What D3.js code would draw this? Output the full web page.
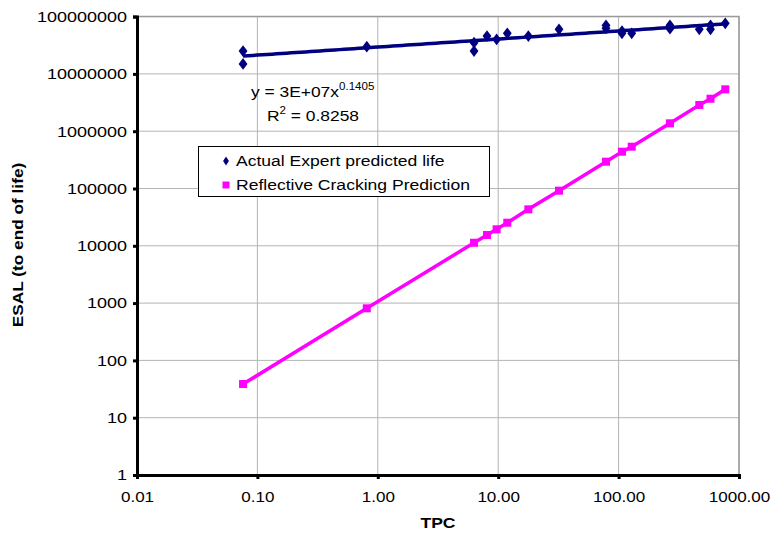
<!DOCTYPE html>
<html><head><meta charset="utf-8">
<script src="https://cdn.jsdelivr.net/npm/d3@7"></script>
<style>body{margin:0;background:#fff}svg{display:block}text{font-family:"Liberation Sans",Arial,sans-serif}</style>
</head><body><svg id="c" width="771" height="534"></svg>
<script>
// Actual Expert predicted life (diamonds)
const expertTPC = [0.076,0.076,0.81,6.3,6.3,8.07,9.7,11.9,17.8,32,78.6,78.6,106.7,106.7,128.5,267,267,468,580,580,769];
const expertESAL = [2.5e7,1.49e7,2.98e7,3.5e7,2.5e7,4.58e7,4.0e7,5.1e7,4.58e7,6.0e7,7.05e7,6.25e7,5.6e7,5.1e7,5.1e7,7.05e7,6.15e7,6.0e7,7.05e7,6.0e7,7.64e7];
// Reflective Cracking Prediction (squares)
const crackTPC = [0.076,0.81,6.3,8.07,9.7,11.9,17.8,32,78.6,106.7,128.5,267,468,580,769];
const crackESAL = [38.7,811,11300,15430,19400,25300,43300,91600,293800,438600,536600,1373000,2870000,3690000,5380000];
// Power trendline reported on chart
const trendA = 2.94e7, trendB = 0.1405;
const xTicks = [0.01,0.1,1,10,100,1000];
const xTickLabels = ["0.01","0.10","1.00","10.00","100.00","1000.00"];
const yTicks = [1,10,100,1000,10000,100000,1000000,10000000,100000000];
const yTickLabels = ["1","10","100","1000","10000","100000","1000000","10000000","100000000"];
const seriesNames = ["Actual Expert predicted life","Reflective Cracking Prediction"];

const svg = d3.select("#c");
const L=137, R=739, T=16.6, B=475;
const x = d3.scaleLog().domain([0.01,1000]).range([L,R]);
const y = d3.scaleLog().domain([1,1e8]).range([B,T]);

// horizontal stretch helper (reference text is wider than Arial at same height)
function stretch(sel, s){
  sel.each(function(){
    const t=d3.select(this);
    const tx=+t.attr("x")||0, ty=+t.attr("y")||0;
    const prev=t.attr("transform")||"";
    t.attr("transform",`${prev} translate(${tx},${ty}) scale(${s},1) translate(${-tx},${-ty})`);
  });
}

// gridlines
const g = svg.append("g");
g.selectAll("line.vx").data(xTicks.slice(1)).join("line")
  .attr("x1",d=>x(d)).attr("x2",d=>x(d)).attr("y1",T).attr("y2",B)
  .attr("stroke","#b4b4b4").attr("stroke-width",1);
g.selectAll("line.hy").data(yTicks.slice(1)).join("line")
  .attr("y1",d=>y(d)).attr("y2",d=>y(d)).attr("x1",L).attr("x2",R)
  .attr("stroke","#b4b4b4").attr("stroke-width",1);
// border top/right
svg.append("path").attr("d",`M${L},${T}H${R}V${B}`).attr("fill","none").attr("stroke","#9a9a9a").attr("stroke-width",1.5);

// axes
const xAxis = d3.axisBottom(x).tickValues(xTicks).tickFormat((d,i)=>xTickLabels[i]).tickSize(4).tickPadding(12);
const ax = svg.append("g").attr("transform",`translate(0,${B})`).call(xAxis);
ax.select(".domain").attr("stroke","#000").attr("stroke-width",3);
ax.selectAll(".tick line").attr("stroke","#000").attr("stroke-width",3);
ax.selectAll(".tick text").attr("font-size",15.5).attr("fill","#000").style("font-family","Liberation Sans, Arial, sans-serif");
stretch(ax.selectAll(".tick text"),1.1);

const yAxis = d3.axisLeft(y).tickValues(yTicks).tickFormat((d,i)=>yTickLabels[i]).tickSize(4).tickPadding(6);
const ay = svg.append("g").attr("transform",`translate(${L},0)`).call(yAxis);
ay.select(".domain").attr("stroke","#000").attr("stroke-width",3);
ay.selectAll(".tick line").attr("stroke","#000").attr("stroke-width",3);
ay.selectAll(".tick text").attr("font-size",15).attr("fill","#000").style("font-family","Liberation Sans, Arial, sans-serif");
stretch(ay.selectAll(".tick text"),1.2);

// trendline
const xr = d3.extent(expertTPC);
const tl = d3.range(0,101).map(i=>{const lx=Math.log10(xr[0])+(Math.log10(xr[1])-Math.log10(xr[0]))*i/100; const xv=Math.pow(10,lx); return [xv,trendA*Math.pow(xv,trendB)];});
svg.append("path").datum(tl).attr("d",d3.line().x(d=>x(d[0])).y(d=>y(d[1])))
  .attr("fill","none").attr("stroke","#000080").attr("stroke-width",3.5);

// expert diamonds
const dsym = d3.symbol().type(d3.symbolDiamond).size(40);
svg.append("g").selectAll("path").data(expertTPC.map((v,i)=>[v,expertESAL[i]])).join("path")
  .attr("d",dsym).attr("transform",d=>`translate(${x(d[0])},${y(d[1])}) scale(1.3,1)`).attr("fill","#000080");

// crack line
const cdata = crackTPC.map((v,i)=>[v,crackESAL[i]]);
svg.append("path").datum(cdata).attr("d",d3.line().x(d=>x(d[0])).y(d=>y(d[1])))
  .attr("fill","none").attr("stroke","#ff00ff").attr("stroke-width",3.5);
svg.append("g").selectAll("rect").data(cdata).join("rect")
  .attr("x",d=>x(d[0])-4).attr("y",d=>y(d[1])-4).attr("width",8).attr("height",8).attr("fill","#ff00ff");

// trend equation
const eq = svg.append("text").attr("x",251).attr("y",97).attr("font-size",15).attr("fill","#000");
eq.append("tspan").text("y = 3E+07x");
eq.append("tspan").attr("dy",-7).attr("font-size",10).text("0.1405");
stretch(eq,1.16);
const r2 = svg.append("text").attr("x",267).attr("y",121).attr("font-size",15).attr("fill","#000");
r2.append("tspan").text("R");
r2.append("tspan").attr("dy",-7).attr("font-size",10).text("2");
r2.append("tspan").attr("dy",7).text(" = 0.8258");
stretch(r2,1.16);

// legend
const lg = svg.append("g");
lg.append("rect").attr("x",198.5).attr("y",146.5).attr("width",291).attr("height",50).attr("fill","#fff").attr("stroke","#000").attr("stroke-width",1);
lg.append("path").attr("d",dsym).attr("transform","translate(226,161) scale(0.85,0.75)").attr("fill","#000080");
lg.append("rect").attr("x",222.5).attr("y",181.5).attr("width",7).attr("height",7).attr("fill","#ff00ff");
const lt1 = lg.append("text").attr("x",236).attr("y",166.5).attr("font-size",15).text(seriesNames[0]);
const lt2 = lg.append("text").attr("x",236).attr("y",190.5).attr("font-size",15).text(seriesNames[1]);
stretch(lt1,1.17); stretch(lt2,1.17);

// axis titles
const xt = svg.append("text").attr("x",438).attr("y",528).attr("text-anchor","middle").attr("font-size",15).attr("font-weight","bold").text("TPC");
stretch(xt,1.17);
svg.append("text").attr("transform","translate(23,245) rotate(-90) scale(1.15,1)").attr("text-anchor","middle").attr("font-size",15).attr("font-weight","bold").text("ESAL (to end of life)");
</script></body></html>
